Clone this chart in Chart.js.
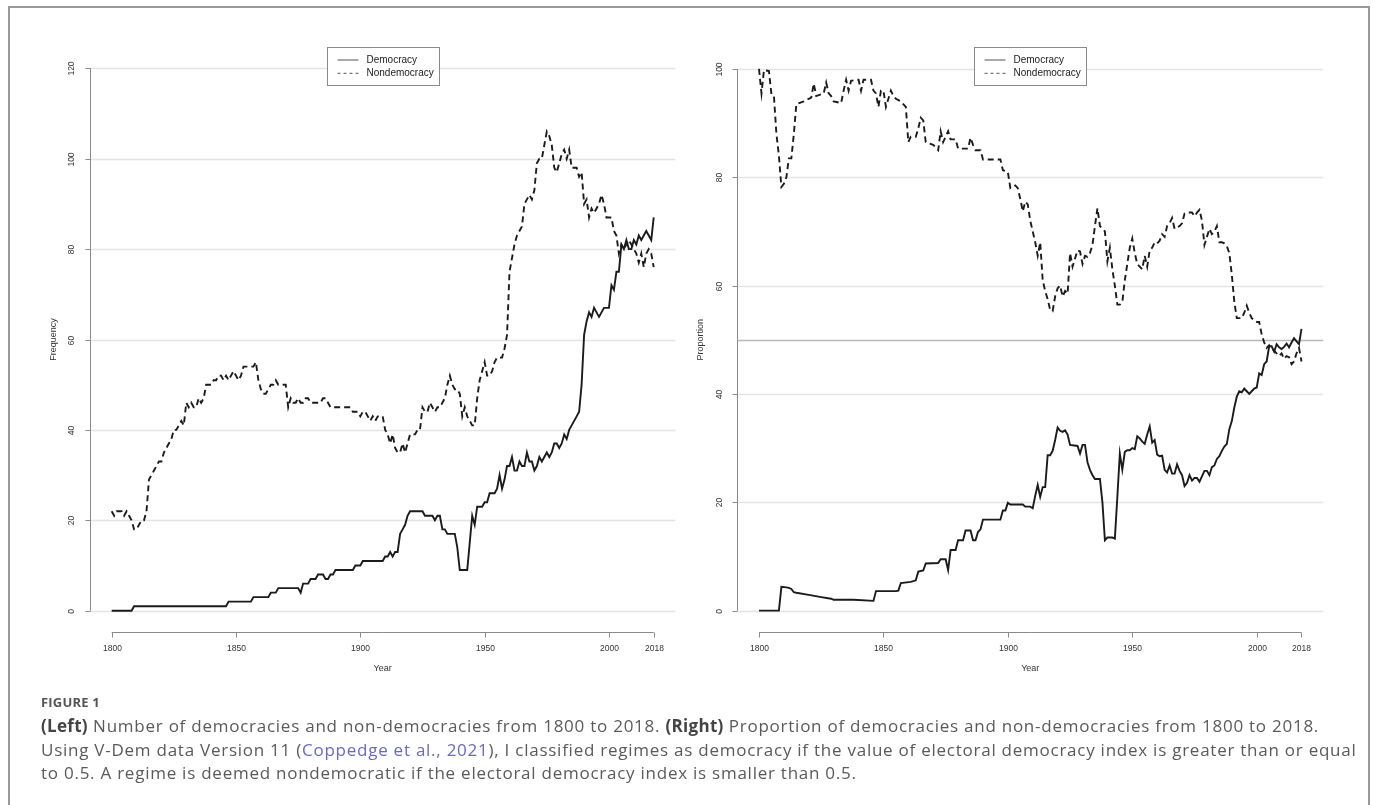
<!DOCTYPE html>
<html>
<head>
<meta charset="utf-8">
<script src="https://cdn.jsdelivr.net/npm/chart.js@4.4.1/dist/chart.umd.min.js"></script>
<style>
  html, body { margin: 0; padding: 0; background: #fff; }
  body { width: 1375px; height: 805px; position: relative; overflow: hidden; }
  #frame { position: absolute; left: 8px; top: 6px; width: 1362px; height: 830px;
           border: 2px solid #9a9a9a; box-sizing: border-box; }
  canvas { position: absolute; top: 0; }
  #left { left: 0; }
  #right { left: 687px; }
  .caption { position: absolute; left: 41px; top: 691px; color: #5a5a5a;
             font-family: "Open Sans", "Noto Sans", sans-serif; white-space: nowrap; }
  .caption .fig { font-size: 13px; font-weight: 700; color: #555; letter-spacing: 0.2px;
                  line-height: 22px; }
  .caption .txt { font-size: 17px; line-height: 23.5px; letter-spacing: 0.75px; margin-top: 1px; }
  .caption b { color: #444; font-weight: 700; letter-spacing: 0.3px; }
  .caption .ref { color: #6669c8; }
</style>
</head>
<body>
<div id="frame"></div>
<canvas id="left" width="687" height="700"></canvas>
<canvas id="right" width="688" height="700"></canvas>
<div class="caption">
  <div class="fig">FIGURE 1</div>
  <div class="txt"><b>(Left)</b> Number of democracies and non-democracies from 1800 to 2018. <b>(Right)</b> Proportion of democracies and non-democracies from 1800 to 2018.<br>Using V-Dem data Version 11 (<span class="ref">Coppedge et al., 2021</span>), I classified regimes as democracy if the value of electoral democracy index is greater than or equal<br>to 0.5. A regime is deemed nondemocratic if the electoral democracy index is smaller than 0.5.</div>
</div>
<script>
// ---- Number of regimes (left panel) ----
const demCountYears = [1800,1808,1809,1846,1847,1856,1857,1863,1864,1866,1867,1875,1876,1877,1879,1880,1882,1883,1885,1886,1887,1888,1889,1890,1897,1898,1900,1901,1909,1910,1911,1912,1913,1914,1915,1916,1917,1918,1919,1920,1925,1926,1929,1930,1931,1932,1933,1934,1935,1938,1939,1940,1943,1944,1945,1946,1947,1949,1950,1951,1952,1954,1955,1956,1957,1958,1959,1960,1961,1962,1963,1964,1965,1966,1967,1968,1969,1970,1971,1972,1973,1974,1975,1976,1977,1978,1979,1980,1981,1982,1983,1984,1985,1986,1987,1988,1989,1990,1991,1992,1993,1994,1995,1996,1997,1998,1999,2000,2001,2002,2003,2004,2005,2006,2007,2008,2009,2010,2011,2012,2013,2014,2015,2016,2017,2018];
const demCount = [0,0,1,1,2,2,3,3,4,4,5,5,4,6,6,7,7,8,8,7,7,8,8,9,9,10,10,11,11,12,12,13,12,13,13,17,18,19,21,22,22,21,21,20,21,21,18,18,17,17,14,9,9,15,21,19,23,23,24,24,26,26,27,30,27,29,32,32,34,31,31,33,32,32,35,33,33,31,32,34,33,34,35,34,35,37,37,36,37,39,38,40,41,42,43,44,50,61,64,66,65,67,66,65,66,67,67,67,72,71,75,75,81,80,82,80,80,82,81,83,82,83,84,83,82,87];

const nonCountYears = [1800,1801,1802,1804,1805,1806,1807,1808,1809,1810,1811,1812,1813,1814,1815,1816,1817,1818,1819,1820,1821,1822,1823,1824,1825,1826,1827,1828,1829,1830,1831,1832,1833,1834,1835,1836,1837,1838,1839,1840,1841,1842,1843,1844,1845,1846,1847,1848,1849,1850,1851,1852,1853,1857,1858,1859,1860,1861,1862,1863,1864,1865,1866,1867,1870,1871,1872,1873,1874,1875,1876,1877,1878,1879,1880,1884,1885,1886,1887,1888,1896,1897,1899,1900,1901,1902,1903,1904,1905,1906,1907,1909,1910,1911,1912,1913,1914,1915,1916,1917,1918,1919,1920,1922,1923,1924,1925,1926,1927,1928,1929,1930,1931,1932,1933,1934,1935,1936,1937,1938,1939,1940,1941,1942,1943,1944,1945,1946,1947,1948,1949,1950,1951,1952,1953,1954,1955,1956,1957,1958,1959,1960,1961,1962,1963,1964,1965,1966,1967,1968,1969,1970,1971,1972,1973,1974,1975,1976,1977,1978,1979,1980,1981,1982,1983,1984,1985,1986,1987,1988,1989,1990,1991,1992,1993,1994,1995,1996,1997,1998,1999,2000,2001,2002,2003,2004,2005,2006,2007,2008,2009,2010,2011,2012,2013,2014,2015,2016,2017,2018];
const nonCount = [22,21,22,22,21,22,21,20,18,18,19,20,20,22,29,30,31,32,33,33,35,36,37,38,40,40,41,42,41,46,45,46,45,45,47,46,47,50,50,50,51,51,52,52,51,52,51,52,53,52,51,52,54,54,55,51,49,48,48,49,50,50,51,50,50,45,47,46,46,47,46,46,47,47,46,46,47,47,46,45,45,44,44,43,44,44,43,42,43,42,43,43,40,39,37,39,36,35,35,37,35,37,39,39,40,40,45,44,44,46,45,44,45,45,46,47,50,52,50,49,49,48,43,45,43,42,41,41,47,51,53,55,52,52,53,55,56,56,56,58,61,75,78,81,83,84,85,90,91,92,91,93,99,100,100,103,106,105,103,98,97,99,101,102,100,102,98,98,98,96,97,90,91,87,89,88,89,90,92,90,87,87,87,84,83,79,81,80,81,82,81,80,79,77,79,76,79,80,79,76];

// ---- Share of regimes, percent (right panel) ----
const demShareYears = [1800,1808,1809,1811,1812,1813,1814,1815,1820,1825,1829,1830,1838,1846,1847,1855,1856,1857,1861,1863,1864,1866,1867,1872,1873,1875,1876,1877,1879,1880,1882,1883,1885,1886,1887,1888,1889,1890,1897,1898,1899,1900,1901,1906,1907,1909,1910,1911,1912,1913,1914,1915,1916,1917,1918,1919,1920,1921,1922,1923,1924,1925,1928,1929,1930,1931,1932,1933,1934,1935,1937,1938,1939,1940,1942,1943,1944,1945,1946,1947,1948,1949,1950,1951,1952,1953,1954,1955,1956,1957,1958,1959,1960,1961,1962,1963,1964,1965,1966,1967,1968,1969,1970,1971,1972,1973,1974,1975,1976,1977,1978,1979,1980,1981,1982,1983,1984,1985,1986,1987,1988,1989,1990,1991,1992,1993,1994,1995,1996,1997,1998,1999,2000,2001,2002,2003,2004,2005,2006,2007,2008,2009,2010,2011,2012,2013,2014,2015,2016,2017,2018];
const demShare = [0,0,4.4,4.3,4.2,4.0,3.4,3.3,2.9,2.5,2.2,2.0,2.0,1.8,3.6,3.6,3.7,5.1,5.3,5.6,7.2,7.4,8.7,8.8,9.5,9.5,7.5,11.2,11.2,13.0,13.0,14.8,14.8,13.0,13.0,14.5,15.0,16.8,16.8,18.5,18.5,19.9,19.6,19.6,19.2,19.2,18.9,21.2,23.2,21.0,22.8,22.8,28.7,28.7,29.5,31.5,33.8,33.2,33.0,33.3,32.5,30.6,30.4,29.0,30.6,30.6,27.4,26.0,25.0,24.3,24.3,20.0,13.0,13.5,13.5,13.3,21.0,29.0,26.0,29.3,29.6,29.6,30.0,29.8,32.2,31.8,31.2,30.8,32.5,34.0,31.0,31.5,28.8,28.5,28.6,26.0,25.5,26.8,25.3,25.3,27.0,25.8,25.0,23.0,23.6,25.0,24.0,24.5,24.5,23.8,24.8,25.8,25.8,25.0,26.5,26.8,28.0,28.5,29.5,30.3,30.8,33.5,35.0,37.5,39.5,40.5,40.3,41.0,40.5,40.0,40.5,41.0,41.2,43.8,43.5,45.5,46.0,48.8,48.8,47.8,49.2,48.6,48.3,48.7,49.3,48.6,49.5,50.3,49.7,49.2,52.0];

const nonShareYears = [1800,1801,1802,1804,1805,1806,1807,1808,1809,1810,1811,1812,1813,1814,1815,1818,1820,1821,1822,1823,1826,1827,1828,1829,1830,1833,1834,1835,1836,1837,1839,1840,1841,1842,1845,1846,1847,1848,1849,1850,1851,1852,1853,1854,1855,1857,1859,1860,1861,1863,1864,1865,1866,1867,1870,1872,1873,1874,1875,1876,1877,1879,1880,1884,1885,1886,1887,1889,1890,1897,1898,1900,1901,1903,1904,1905,1906,1907,1908,1909,1910,1911,1912,1913,1914,1915,1916,1917,1918,1919,1920,1921,1922,1923,1924,1925,1926,1927,1928,1929,1930,1931,1932,1933,1934,1935,1936,1937,1938,1939,1940,1941,1942,1943,1944,1945,1946,1947,1948,1949,1950,1951,1952,1953,1954,1955,1956,1957,1958,1959,1960,1961,1962,1963,1964,1965,1966,1967,1968,1969,1970,1971,1972,1974,1975,1976,1977,1978,1979,1980,1981,1982,1983,1984,1985,1986,1987,1988,1989,1990,1991,1992,1994,1995,1996,1997,1998,1999,2000,2001,2002,2003,2004,2005,2006,2007,2008,2009,2010,2011,2012,2013,2014,2015,2016,2017,2018];
const nonShare = [100,95.5,99.8,99.6,95.3,95.0,88.0,84.0,78.2,78.8,80.0,83.5,83.5,88.0,93.5,94.0,94.5,94.7,97.3,95.0,95.5,97.5,95.5,95.0,94.0,93.7,96.0,98.0,96.0,97.8,98.0,98.0,96.0,98.0,98.0,96.0,95.5,93.0,96.0,96.0,93.0,94.5,96.0,95.0,94.5,94.0,93.0,86.5,87.5,87.5,89.0,91.0,90.5,86.5,86.0,85.0,88.5,86.5,87.5,88.5,87.0,87.0,85.3,85.3,87.3,86.0,85.0,85.0,83.3,83.3,81.3,81.0,78.0,78.5,78.0,76.0,73.7,75.5,75.0,72.0,70.0,68.0,65.5,68.0,61.0,59.0,57.5,55.5,55.3,58.0,59.5,60.0,58.0,59.0,58.5,66.0,63.5,65.0,66.5,66.3,64.0,65.5,65.3,66.0,67.5,71.0,74.3,71.0,70.5,70.0,64.5,67.0,63.0,60.0,56.5,56.5,57.0,61.0,64.0,67.0,68.7,66.0,64.0,63.5,63.0,65.5,63.5,66.5,67.0,68.0,67.8,68.3,69.5,69.0,71.0,71.5,72.5,70.5,70.8,71.0,71.5,73.3,73.5,73.5,72.8,73.5,74.0,72.0,67.5,69.0,70.5,69.5,70.0,71.0,68.0,68.0,67.8,67.3,66.0,62.0,57.0,54.0,54.0,55.0,56.3,55.0,54.0,53.5,53.3,53.3,51.0,49.5,48.5,49.0,48.3,48.0,47.5,47.0,47.5,46.5,47.0,46.8,45.5,46.0,47.5,48.5,46.0];

// ---- Axis ticks and labels ----
const yearTicks = [1800, 1850, 1900, 1950, 2000, 2018];
const countTicks = [0, 20, 40, 60, 80, 100, 120];
const shareTicks = [0, 20, 40, 60, 80, 100];
const seriesNames = ['Democracy', 'Nondemocracy'];

const toPoints = (xs, ys) => xs.map((x, i) => ({ x, y: ys[i] }));

// Base-graphics style frame: grid, axes, rotated y labels and boxed legend
const baseGraphics = {
  id: 'baseGraphics',
  beforeDatasetsDraw(chart, args, o) {
    const { ctx, chartArea: a, scales: { y } } = chart;
    ctx.save();
    o.grid.forEach(v => {
      const py = Math.round(y.getPixelForValue(v)) + 0.5;
      ctx.strokeStyle = v === o.strongLine ? '#b9b9b9' : '#e4e4e4';
      ctx.lineWidth = v === o.strongLine ? 1.6 : 1.4;
      ctx.beginPath(); ctx.moveTo(a.left, py); ctx.lineTo(a.right, py); ctx.stroke();
    });
    ctx.restore();
  },
  afterDatasetsDraw(chart, args, o) {
    const { ctx, chartArea: a, scales: { x, y } } = chart;
    ctx.save();
    ctx.strokeStyle = '#8a8a8a';
    ctx.lineWidth = 1;
    ctx.fillStyle = '#333';
    ctx.font = '8.5px "Liberation Sans", Arial, sans-serif';

    // x axis
    const xa = Math.round(a.bottom) + 0.5;
    const x0 = x.getPixelForValue(o.xTicks[0]);
    const x1 = x.getPixelForValue(o.xTicks[o.xTicks.length - 1]);
    ctx.beginPath(); ctx.moveTo(x0, xa); ctx.lineTo(x1, xa); ctx.stroke();
    ctx.textAlign = 'center'; ctx.textBaseline = 'middle';
    o.xTicks.forEach(t => {
      const px = Math.round(x.getPixelForValue(t)) + 0.5;
      ctx.beginPath(); ctx.moveTo(px, xa); ctx.lineTo(px, xa + 5); ctx.stroke();
      ctx.fillText(String(t), px, a.bottom + 16);
    });

    // y axis
    const ya = Math.round(a.left) + 0.5;
    const y0 = y.getPixelForValue(o.yTicks[0]);
    const y1 = y.getPixelForValue(o.yTicks[o.yTicks.length - 1]);
    ctx.beginPath(); ctx.moveTo(ya, y0); ctx.lineTo(ya, y1); ctx.stroke();
    o.yTicks.forEach(t => {
      const py = Math.round(y.getPixelForValue(t)) + 0.5;
      ctx.beginPath(); ctx.moveTo(ya, py); ctx.lineTo(ya - 5, py); ctx.stroke();
      ctx.save();
      ctx.translate(a.left - 18, py);
      ctx.rotate(-Math.PI / 2);
      ctx.fillText(String(t), 0, 0);
      ctx.restore();
    });

    // axis titles
    ctx.font = '9px "Liberation Sans", Arial, sans-serif';
    ctx.fillStyle = '#333';
    ctx.fillText(o.xTitle, (a.left + a.right) / 2, a.bottom + 36);
    ctx.save();
    ctx.translate(a.left - 36.5, (a.top + a.bottom) / 2);
    ctx.rotate(-Math.PI / 2);
    ctx.fillText(o.yTitle, 0, 0);
    ctx.restore();

    // legend box at top centre of the plot region
    ctx.font = '10px "Liberation Sans", Arial, sans-serif';
    const tw = Math.max(...chart.data.datasets.map(d => ctx.measureText(d.label).width));
    const bw = Math.round(39 + tw + 6);
    const bh = 38;
    const bx = Math.round((a.left + a.right) / 2 - bw / 2) + 0.5;
    const by = Math.round(a.top) + 0.5;
    ctx.fillStyle = '#fff';
    ctx.fillRect(bx, by, bw, bh);
    ctx.strokeStyle = '#8a8a8a';
    ctx.strokeRect(bx, by, bw, bh);
    chart.data.datasets.forEach((d, i) => {
      const ry = by + 12.5 + i * 13.3;
      ctx.strokeStyle = '#555';
      ctx.lineWidth = 1;
      ctx.setLineDash(d.borderDash && d.borderDash.length ? [3, 3] : []);
      ctx.beginPath(); ctx.moveTo(bx + 10, ry); ctx.lineTo(bx + 31, ry); ctx.stroke();
      ctx.setLineDash([]);
      ctx.fillStyle = '#222';
      ctx.textAlign = 'left';
      ctx.fillText(d.label, bx + 39, ry);
    });
    ctx.restore();
  }
};

function makeChart(id, demPts, nonPts, yMin, yMax, yTicks, yTitle, strongLine, padding) {
  return new Chart(document.getElementById(id), {
    type: 'line',
    data: {
      datasets: [
        { label: seriesNames[0], data: demPts, borderColor: '#1b1b1b', borderWidth: 1.9,
          pointRadius: 0, tension: 0, borderDash: [] },
        { label: seriesNames[1], data: nonPts, borderColor: '#1b1b1b', borderWidth: 1.9,
          pointRadius: 0, tension: 0, borderDash: [6, 4] }
      ]
    },
    options: {
      responsive: false,
      animation: false,
      devicePixelRatio: 1,
      layout: { padding },
      scales: {
        x: { type: 'linear', min: 1791.28, max: 2026.72, display: false },
        y: { type: 'linear', min: yMin, max: yMax, display: false }
      },
      plugins: {
        legend: { display: false },
        tooltip: { enabled: false },
        baseGraphics: {
          grid: strongLine === null ? yTicks : yTicks.concat([strongLine]),
          strongLine, xTicks: yearTicks, yTicks, xTitle: 'Year', yTitle
        }
      }
    },
    plugins: [baseGraphics]
  });
}

makeChart('left', toPoints(demCountYears, demCount), toPoints(nonCountYears, nonCount),
  -4.8, 124.8, countTicks, 'Frequency', null,
  { left: 90, top: 46.6, right: 11.6, bottom: 67.6 });

makeChart('right', toPoints(demShareYears, demShare), toPoints(nonShareYears, nonShare),
  -4, 104, shareTicks, 'Proportion', 50,
  { left: 50.3, top: 47.3, right: 51.8, bottom: 67.7 });
</script>
</body>
</html>
